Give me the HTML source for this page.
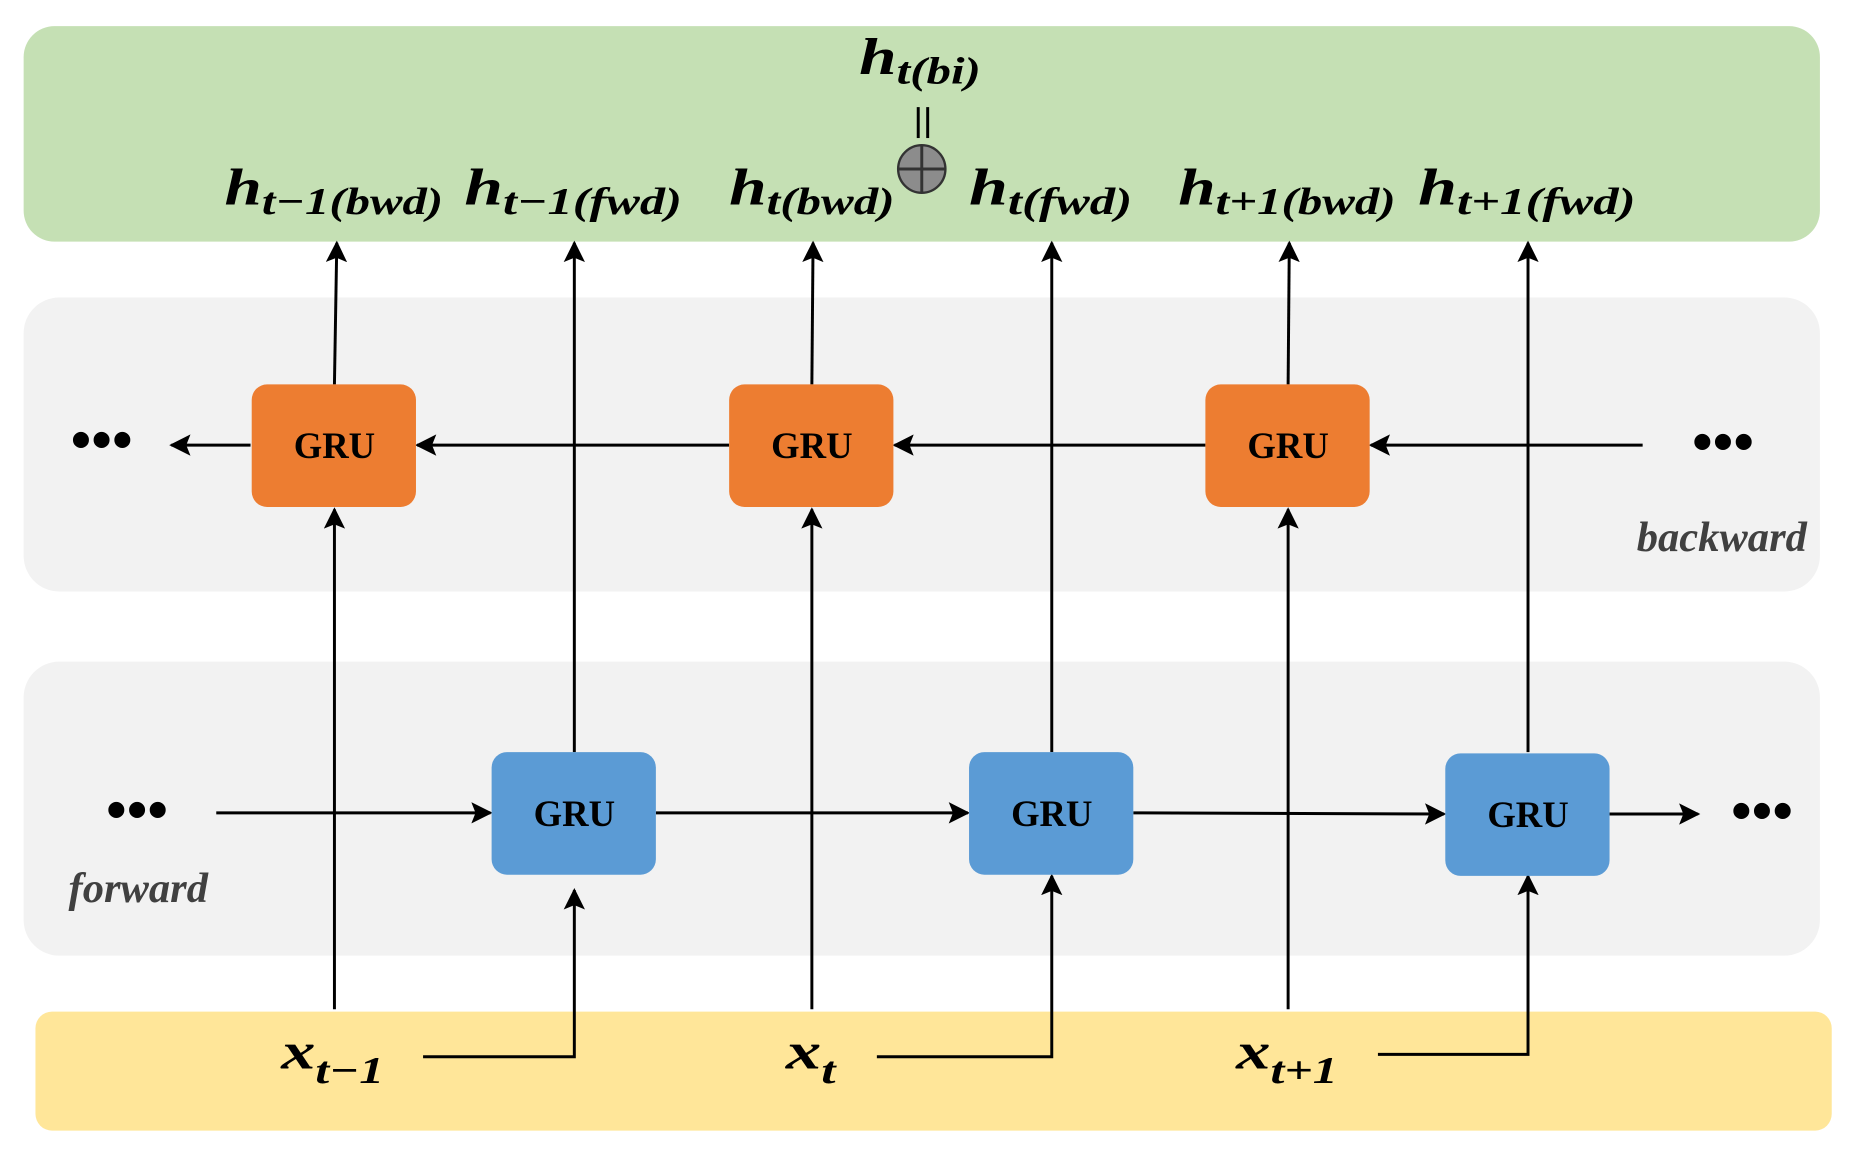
<!DOCTYPE html>
<html><head><meta charset="utf-8"><style>
html,body{margin:0;padding:0;background:#fff;}
svg{display:block;}
text{font-family:"Liberation Serif",serif;}
</style></head><body>
<svg width="1853" height="1152" viewBox="0 0 1568 968" preserveAspectRatio="none">
<defs>
<marker id="b" viewBox="0 0 10 10" refX="9" refY="5" markerWidth="18" markerHeight="18" markerUnits="userSpaceOnUse" orient="auto">
<path d="M0,0 L10,5 L0,10 L2,5 Z" fill="#000"/></marker>
</defs>
<rect x="20" y="22" width="1520" height="181" rx="26" fill="#c5e0b4"/>
<rect x="20" y="250" width="1520" height="247" rx="30" fill="#f2f2f2"/>
<rect x="20" y="556" width="1520" height="247" rx="30" fill="#f2f2f2"/>
<rect x="30" y="850" width="1520" height="100" rx="14" fill="#ffe699"/>

<g stroke="#000" stroke-width="2.5" fill="none">
<line x1="283" y1="323" x2="285" y2="204" marker-end="url(#b)"/>
<line x1="486" y1="632" x2="486" y2="204" marker-end="url(#b)"/>
<line x1="687" y1="323" x2="688" y2="204" marker-end="url(#b)"/>
<line x1="890" y1="632" x2="890" y2="204" marker-end="url(#b)"/>
<line x1="1090" y1="323" x2="1091" y2="204" marker-end="url(#b)"/>
<line x1="1293" y1="632" x2="1293" y2="204" marker-end="url(#b)"/>
<line x1="283" y1="848" x2="283" y2="428" marker-end="url(#b)"/>
<line x1="687" y1="848" x2="687" y2="428" marker-end="url(#b)"/>
<line x1="1090" y1="848" x2="1090" y2="428" marker-end="url(#b)"/>
<polyline points="358,888 486,888 486,748" marker-end="url(#b)"/>
<polyline points="742,888 890,888 890,736" marker-end="url(#b)"/>
<polyline points="1166,886 1293,886 1293,736" marker-end="url(#b)"/>
<line x1="1390" y1="374" x2="1160" y2="374" marker-end="url(#b)"/>
<line x1="1020" y1="374" x2="757" y2="374" marker-end="url(#b)"/>
<line x1="617" y1="374" x2="353" y2="374" marker-end="url(#b)"/>
<line x1="212" y1="374" x2="145" y2="374" marker-end="url(#b)"/>
<line x1="183" y1="683" x2="415" y2="683" marker-end="url(#b)"/>
<line x1="555" y1="683" x2="819" y2="683" marker-end="url(#b)"/>
<line x1="959" y1="683" x2="1222" y2="684" marker-end="url(#b)"/>
<line x1="1362" y1="684" x2="1437" y2="684" marker-end="url(#b)"/>
</g>

<g font-weight="bold" font-size="31" text-anchor="middle" fill="#000">
<rect x="213" y="323" width="139" height="103" rx="13" fill="#ed7d31"/><text x="283" y="385">GRU</text>
<rect x="617" y="323" width="139" height="103" rx="13" fill="#ed7d31"/><text x="687" y="385">GRU</text>
<rect x="1020" y="323" width="139" height="103" rx="13" fill="#ed7d31"/><text x="1090" y="385">GRU</text>
<rect x="416" y="632" width="139" height="103" rx="13" fill="#5b9bd5"/><text x="486" y="694">GRU</text>
<rect x="820" y="632" width="139" height="103" rx="13" fill="#5b9bd5"/><text x="890" y="694">GRU</text>
<rect x="1223" y="633" width="139" height="103" rx="13" fill="#5b9bd5"/><text x="1293" y="695">GRU</text>
</g>

<g font-size="50" font-weight="bold" fill="#000" text-anchor="middle">
<text x="86" y="386">•••</text>
<text x="1458" y="388">•••</text>
<text x="116" y="697">•••</text>
<text x="1491" y="698">•••</text>
</g>
<g font-size="36" font-style="italic" font-weight="bold" fill="#404040" text-anchor="middle">
<text x="1457" y="463">backward</text>
<text x="117" y="758">forward</text>
</g>

<g font-style="italic" font-weight="bold" fill="#000">
<text x="190" y="172" font-size="44" textLength="185" lengthAdjust="spacingAndGlyphs">h<tspan font-size="32" dy="8">t−1(bwd)</tspan></text>
<text x="393" y="172" font-size="44" textLength="184" lengthAdjust="spacingAndGlyphs">h<tspan font-size="32" dy="8">t−1(fwd)</tspan></text>
<text x="617" y="172" font-size="44" textLength="140" lengthAdjust="spacingAndGlyphs">h<tspan font-size="32" dy="8">t(bwd)</tspan></text>
<text x="820" y="172" font-size="44" textLength="138" lengthAdjust="spacingAndGlyphs">h<tspan font-size="32" dy="8">t(fwd)</tspan></text>
<text x="997" y="172" font-size="44" textLength="184" lengthAdjust="spacingAndGlyphs">h<tspan font-size="32" dy="8">t+1(bwd)</tspan></text>
<text x="1200" y="172" font-size="44" textLength="184" lengthAdjust="spacingAndGlyphs">h<tspan font-size="32" dy="8">t+1(fwd)</tspan></text>
<text x="727" y="62" font-size="44" textLength="103" lengthAdjust="spacingAndGlyphs">h<tspan font-size="32" dy="8">t(bi)</tspan></text>
<text x="238" y="898" font-size="44" textLength="87" lengthAdjust="spacingAndGlyphs">x<tspan font-size="32" dy="12">t−1</tspan></text>
<text x="665" y="898" font-size="44" textLength="42" lengthAdjust="spacingAndGlyphs">x<tspan font-size="32" dy="12">t</tspan></text>
<text x="1046" y="898" font-size="44" textLength="86" lengthAdjust="spacingAndGlyphs">x<tspan font-size="32" dy="12">t+1</tspan></text>
</g>
<g stroke="#000" stroke-width="2.5">
<line x1="777" y1="90" x2="777" y2="116"/>
<line x1="785" y1="90" x2="785" y2="116"/>
</g>
<circle cx="780" cy="142" r="20" fill="#8c8c8c" stroke="#333" stroke-width="2"/>
<line x1="760" y1="142" x2="800" y2="142" stroke="#333" stroke-width="2.5"/>
<line x1="780" y1="122" x2="780" y2="162" stroke="#333" stroke-width="2.5"/>
</svg>
</body></html>
